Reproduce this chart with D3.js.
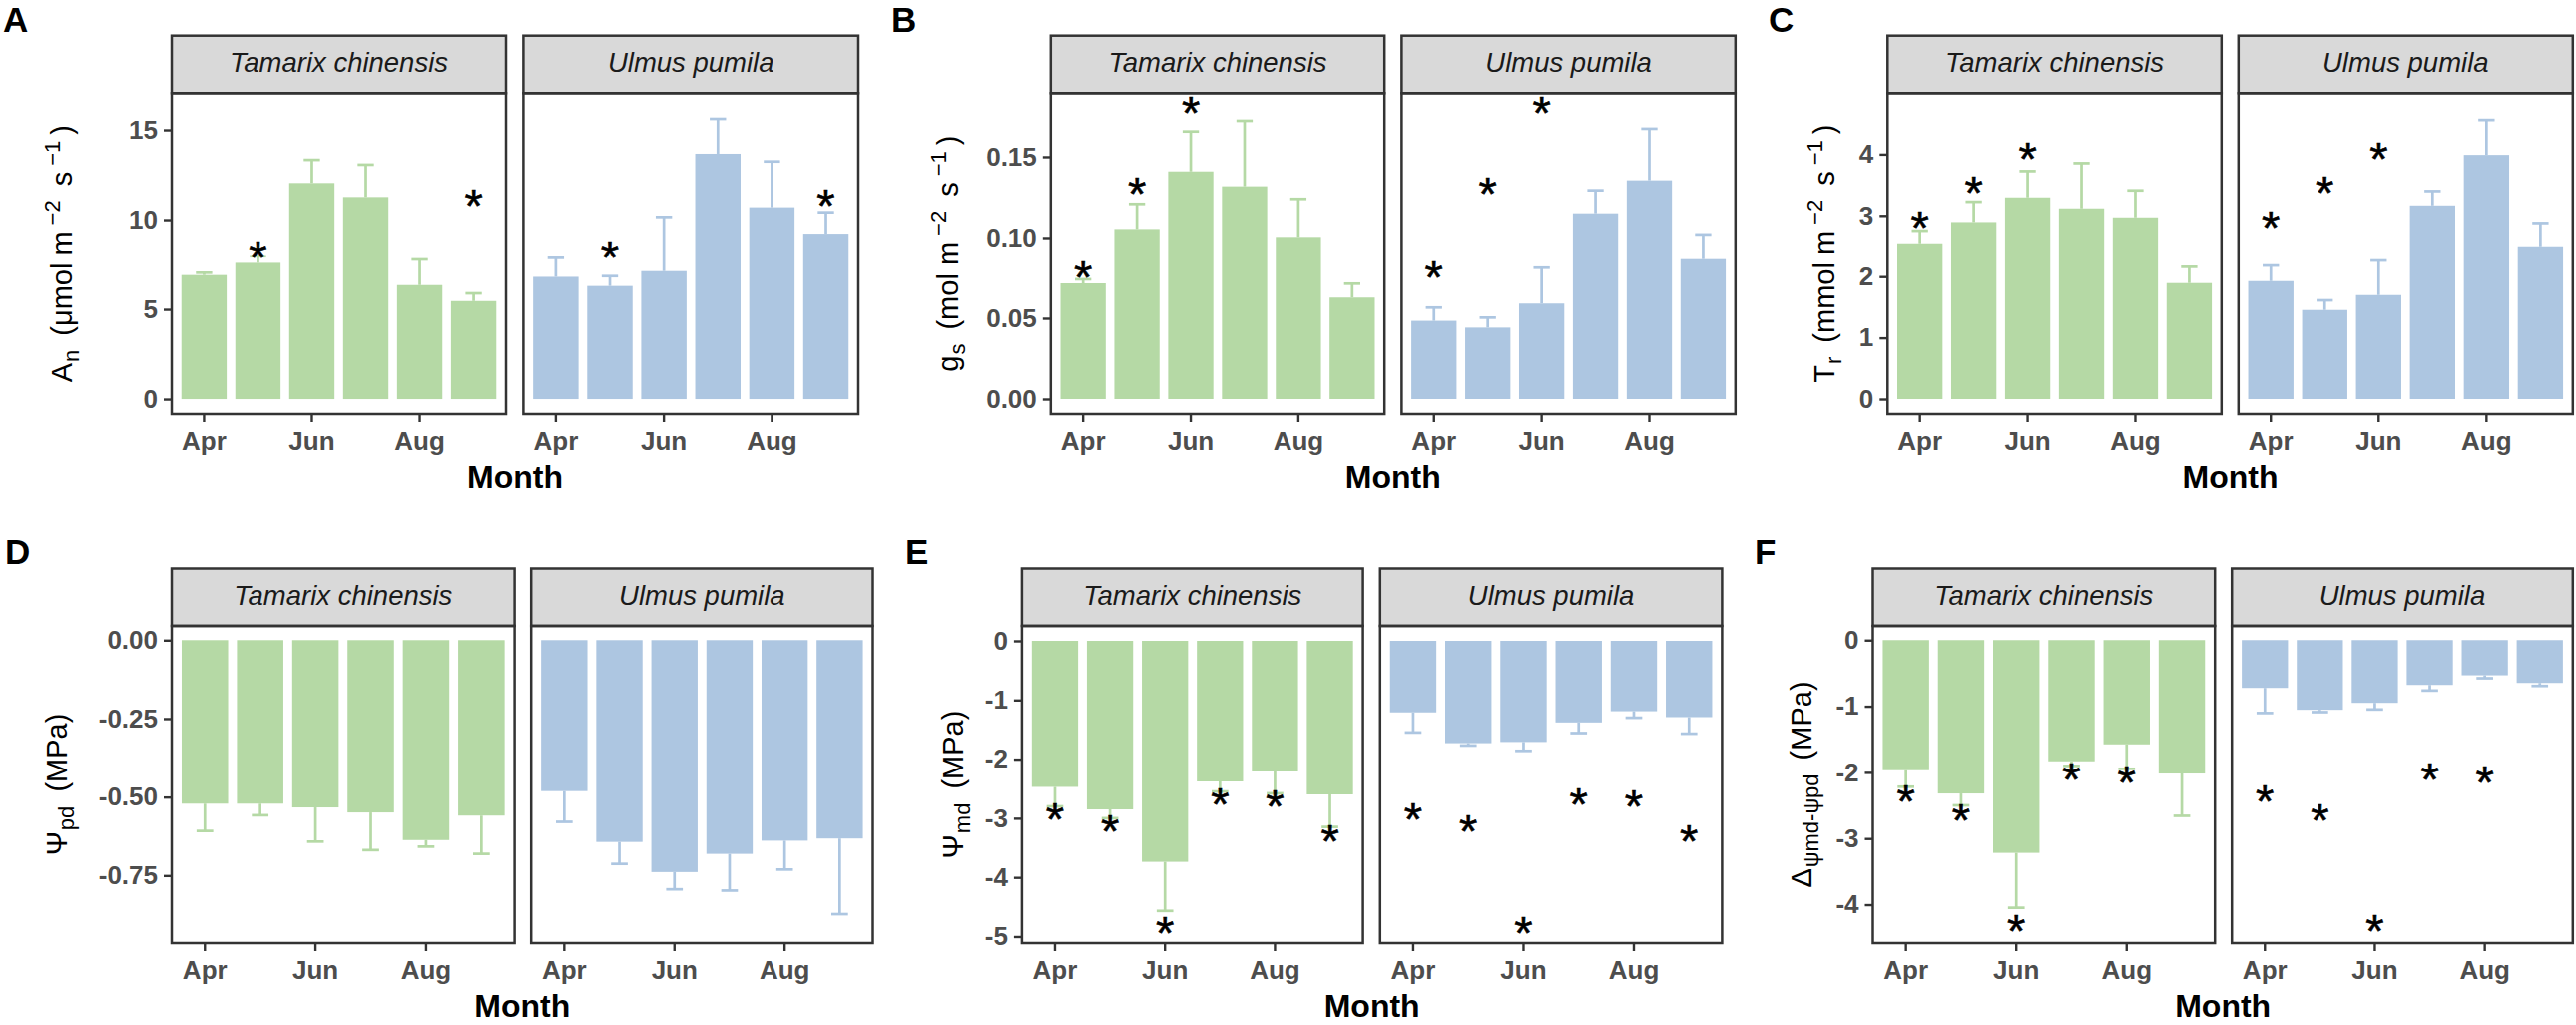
<!DOCTYPE html>
<html lang="en">
<head>
<meta charset="utf-8">
<title>seasonal gas exchange and water potential</title>
<script src="https://cdn.jsdelivr.net/npm/d3@7"></script>
<style>
  body { margin: 0; background: #fff; }
  svg text { font-family: "Liberation Sans", Arial, sans-serif; }
</style>
</head>
<body>
<svg id="fig" width="2581" height="1027"></svg>
<script>
// categories
const months = ["Apr", "May", "Jun", "Jul", "Aug", "Sep"];
const monthTicks = ["Apr", "Jun", "Aug"];
const species = ["Tamarix chinensis", "Ulmus pumila"];

// A  net photosynthesis
const anTam = [6.91, 7.59, 12.04, 11.26, 6.35, 5.46];
const anTamSe = [0.13, 0.37, 1.29, 1.80, 1.43, 0.43];
const anUlm = [6.81, 6.30, 7.13, 13.67, 10.69, 9.22];
const anUlmSe = [1.06, 0.55, 3.02, 1.94, 2.55, 1.19];
const anStar = [null, 8.52, null, null, null, 11.4];
const anTicks = [0, 5, 10, 15];

// B  stomatal conductance
const gsTam = [0.0716, 0.1053, 0.1409, 0.1317, 0.1004, 0.0628];
const gsTamSe = [0.0025, 0.0155, 0.0247, 0.0405, 0.0235, 0.0086];
const gsUlm = [0.0484, 0.0442, 0.0591, 0.1150, 0.1354, 0.0866];
const gsUlmSe = [0.0082, 0.0062, 0.0222, 0.0142, 0.0319, 0.0153];
const gsStar = [0.0823, 0.134, 0.184, null, null, null];
const gsTicks = [0, 0.05, 0.10, 0.15];

// C  transpiration
const trTam = [2.545, 2.892, 3.294, 3.115, 2.968, 1.894];
const trTamSe = [0.206, 0.331, 0.429, 0.738, 0.440, 0.266];
const trUlm = [1.926, 1.454, 1.698, 3.163, 3.988, 2.496];
const trUlmSe = [0.255, 0.158, 0.565, 0.234, 0.570, 0.380];
const trStar = [2.98, 3.55, 4.11, null, null, null];
const trTicks = [0, 1, 2, 3, 4];

// D  predawn water potential
const pdTam = [-0.521, -0.521, -0.533, -0.549, -0.637, -0.559];
const pdTamSe = [0.087, 0.037, 0.109, 0.120, 0.021, 0.122];
const pdUlm = [-0.481, -0.643, -0.739, -0.681, -0.639, -0.632];
const pdUlmSe = [0.098, 0.070, 0.055, 0.117, 0.092, 0.241];
const pdStar = [null, null, null, null, null, null];
const pdTicks = [0, -0.25, -0.50, -0.75];

// E  midday water potential
const mdTam = [-2.47, -2.85, -3.737, -2.378, -2.209, -2.597];
const mdTamSe = [0.33, 0.15, 0.83, 0.17, 0.37, 0.55];
const mdUlm = [-1.21, -1.73, -1.71, -1.38, -1.19, -1.29];
const mdUlmSe = [0.34, 0.04, 0.15, 0.18, 0.11, 0.28];
const mdStar = [-2.84, -3.04, -4.75, -2.585, -2.61, -3.20];
const mdTicks = [0, -1, -2, -3, -4, -5];

// F  midday minus predawn
const dTam = [-1.967, -2.319, -3.217, -1.832, -1.576, -2.017];
const dTamSe = [0.25, 0.18, 0.83, 0.07, 0.37, 0.64];
const dUlm = [-0.723, -1.054, -0.949, -0.678, -0.532, -0.648];
const dUlmSe = [0.38, 0.035, 0.10, 0.085, 0.045, 0.045];
const dStar = [-2.27, -2.56, -4.24, -1.94, -1.99, null];
const dTicks = [0, -1, -2, -3, -4];

const colors = ["#b5d9a5", "#adc6e1"];

// layout of the two rows
const rowTop = {strip: 35.7, top: 93.3, bottom: 415, tagY: 32};
const rowBot = {strip: 569.5, top: 627, bottom: 945, tagY: 565};

const plots = [
  {tag: "A", row: rowTop, tagX: 3, titleX: 72,
   panels: [[172, 507], [524.4, 860]], domain: [-0.83, 17.04],
   ticks: anTicks, fmt: d3.format("d"),
   title: [["A"], ["n", "sub"], [" (μmol m"], ["−2", "sup"], [" s"], ["−1", "sup"], [")"]],
   values: [anTam, anUlm], se: [anTamSe, anUlmSe], star: anStar},
  {tag: "B", row: rowTop, tagX: 893, titleX: 960,
   panels: [[1052.8, 1387.2], [1404.4, 1738.8]], domain: [-0.00926, 0.1893],
   ticks: gsTicks, fmt: d3.format(".2f"),
   title: [["g"], ["s", "sub"], [" (mol m"], ["−2", "sup"], [" s"], ["−1", "sup"], [")"]],
   values: [gsTam, gsUlm], se: [gsTamSe, gsUlmSe], star: gsStar},
  {tag: "C", row: rowTop, tagX: 1772, titleX: 1838,
   panels: [[1891.3, 2225.8], [2242.8, 2577.8]], domain: [-0.244, 4.995],
   ticks: trTicks, fmt: d3.format("d"),
   title: [["T"], ["r", "sub"], [" (mmol m"], ["−2", "sup"], [" s"], ["−1", "sup"], [")"]],
   values: [trTam, trUlm], se: [trTamSe, trUlmSe], star: trStar},
  {tag: "D", row: rowBot, tagX: 5, titleX: 67,
   panels: [[172, 515.6], [532.2, 874.5]], domain: [-0.965, 0.0454],
   ticks: pdTicks, fmt: d => d3.format(".2f")(d).replace("−", "-"),
   title: [["Ψ"], ["pd", "sub"], [" (MPa)"]],
   values: [pdTam, pdUlm], se: [pdTamSe, pdUlmSe], star: pdStar},
  {tag: "E", row: rowBot, tagX: 907, titleX: 965,
   panels: [[1023.9, 1365.6], [1382.8, 1725.4]], domain: [-5.11, 0.253],
   ticks: mdTicks, fmt: d => d3.format("d")(d).replace("−", "-"),
   title: [["Ψ"], ["md", "sub"], [" (MPa)"]],
   values: [mdTam, mdUlm], se: [mdTamSe, mdUlmSe], star: mdStar},
  {tag: "F", row: rowBot, tagX: 1758, titleX: 1815,
   panels: [[1876.5, 2219.2], [2236.2, 2577.8]], domain: [-4.58, 0.215],
   ticks: dTicks, fmt: d => d3.format("d")(d).replace("−", "-"),
   title: [["Δ"], ["ψmd-ψpd", "sub"], [" (MPa)"]],
   values: [dTam, dUlm], se: [dTamSe, dUlmSe], star: dStar}
];

const svg = d3.select("#fig");

function drawPlot(p) {
  const g = svg.append("g");
  const row = p.row;
  const y = d3.scaleLinear().domain(p.domain).range([row.bottom, row.top]);

  // panel tag
  g.append("text")
      .attr("x", p.tagX)
      .attr("y", row.tagY)
      .attr("font-size", 35)
      .attr("font-weight", "bold")
      .text(p.tag);

  p.panels.forEach((ext, k) => {
    const x = d3.scaleBand()
        .domain(months)
        .range(ext)
        .paddingInner(0.16)
        .paddingOuter(0.18);
    const bw = x.bandwidth();
    const rows = months.map((m, i) => ({
      m: m, v: p.values[k][i], se: p.se[k][i], star: p.star[i]
    }));

    // strip
    g.append("rect")
        .attr("x", ext[0]).attr("y", row.strip)
        .attr("width", ext[1] - ext[0]).attr("height", row.top - row.strip)
        .attr("fill", "#d9d9d9")
        .attr("stroke", "#333").attr("stroke-width", 2.5);
    g.append("text")
        .attr("x", (ext[0] + ext[1]) / 2)
        .attr("y", row.strip + 36.5)
        .attr("text-anchor", "middle")
        .attr("font-size", 27.5)
        .attr("font-style", "italic")
        .attr("fill", "#1a1a1a")
        .text(species[k]);

    // error bars (one sided, away from zero)
    const eb = g.append("g")
        .attr("stroke", colors[k])
        .attr("stroke-width", 2.7);
    const end = d => d.v + Math.sign(d.v) * d.se;
    eb.selectAll("line.v")
      .data(rows)
      .join("line")
        .attr("x1", d => x(d.m) + bw / 2)
        .attr("x2", d => x(d.m) + bw / 2)
        .attr("y1", d => y(d.v))
        .attr("y2", d => y(end(d)));
    eb.selectAll("line.cap")
      .data(rows)
      .join("line")
        .attr("class", "cap")
        .attr("x1", d => x(d.m) + bw / 2 - bw * 0.18)
        .attr("x2", d => x(d.m) + bw / 2 + bw * 0.18)
        .attr("y1", d => y(end(d)))
        .attr("y2", d => y(end(d)));

    // bars
    g.append("g")
        .attr("fill", colors[k])
      .selectAll("rect")
      .data(rows)
      .join("rect")
        .attr("x", d => x(d.m))
        .attr("width", bw)
        .attr("y", d => Math.min(y(d.v), y(0)))
        .attr("height", d => Math.abs(y(d.v) - y(0)));

    // significance marks
    g.append("g")
      .selectAll("text")
      .data(rows.filter(d => d.star != null))
      .join("text")
        .attr("x", d => x(d.m) + bw / 2)
        .attr("y", d => y(d.star))
        .attr("dy", "0.575em")
        .attr("text-anchor", "middle")
        .attr("font-size", 47)
        .attr("stroke", "#000")
        .attr("stroke-width", 0.6)
        .text("*");

    // panel border
    g.append("rect")
        .attr("x", ext[0]).attr("y", row.top)
        .attr("width", ext[1] - ext[0]).attr("height", row.bottom - row.top)
        .attr("fill", "none")
        .attr("stroke", "#333").attr("stroke-width", 2.5);

    // x axis
    g.append("g")
        .attr("transform", `translate(0,${row.bottom})`)
        .call(d3.axisBottom(x).tickValues(monthTicks).tickSize(8).tickPadding(10))
        .call(a => a.select(".domain").remove())
        .call(a => a.selectAll("line").attr("stroke", "#333").attr("stroke-width", 2.4))
        .call(a => a.selectAll("text")
            .attr("fill", "#4d4d4d")
            .attr("font-size", 26)
            .attr("font-weight", "bold")
            .attr("font-family", null));

    // y axis only on the first panel
    if (k === 0) {
      g.append("g")
          .attr("transform", `translate(${ext[0]},0)`)
          .call(d3.axisLeft(y).tickValues(p.ticks).tickFormat(p.fmt).tickSize(8).tickPadding(6))
          .call(a => a.select(".domain").remove())
          .call(a => a.selectAll("line").attr("stroke", "#333").attr("stroke-width", 2.4))
          .call(a => a.selectAll("text")
              .attr("fill", "#4d4d4d")
              .attr("font-size", 26)
              .attr("font-weight", "bold")
              .attr("font-family", null));
    }
  });

  // x title
  g.append("text")
      .attr("x", (p.panels[0][0] + p.panels[1][1]) / 2)
      .attr("y", row.bottom + 73.5)
      .attr("text-anchor", "middle")
      .attr("font-size", 32)
      .attr("font-weight", "bold")
      .text("Month");

  // y title with sub / superscripts, plotmath-like spacing
  const cy = (row.top + row.bottom) / 2;
  const t = g.append("text")
      .attr("transform", `translate(${p.titleX},${cy}) rotate(-90)`)
      .attr("text-anchor", "middle")
      .attr("font-size", 29);
  let shift = 0;
  p.title.forEach(([s, kind], i) => {
    const target = kind === "sub" ? 7 : kind === "sup" ? -12 : 0;
    t.append("tspan")
        .attr("dx", i === 0 ? 0 : kind === "sub" ? 1 : 6)
        .attr("dy", target - shift)
        .attr("font-size", kind ? 22 : 29)
        .text(s);
    shift = target;
  });
}

plots.forEach(drawPlot);
</script>
</body>
</html>
